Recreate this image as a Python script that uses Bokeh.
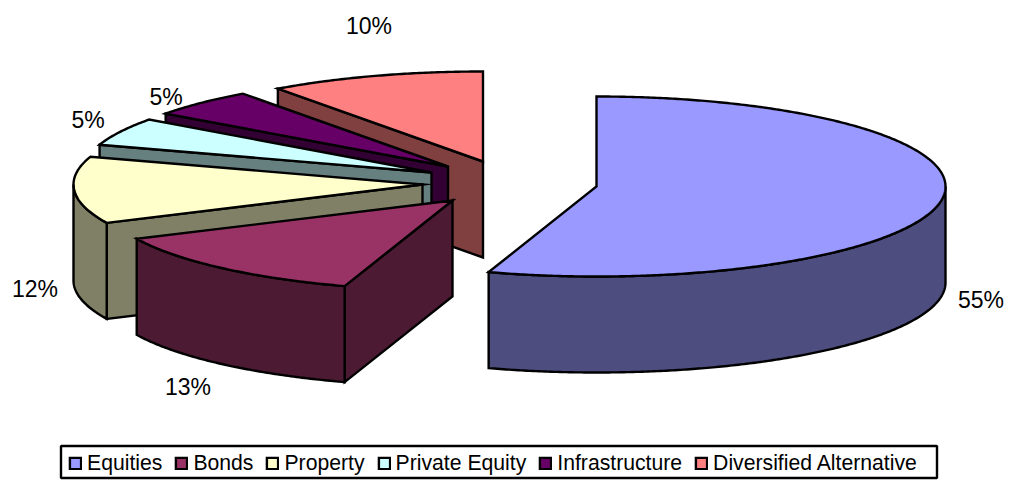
import numpy as np
from bokeh.plotting import figure
from bokeh.models import Range1d, Legend, LegendItem
from bokeh.core.properties import value
from bokeh.embed import file_html
from bokeh.resources import INLINE

categories = ["Equities", "Bonds", "Property", "Private Equity", "Infrastructure", "Diversified Alternative"]
shares = [55, 13, 12, 5, 5, 10]
top_colors = ["#9999FF", "#993366", "#FFFFCC", "#CCFFFF", "#660066", "#FF8080"]
side_colors = ["#4D4D80", "#4D1A33", "#808066", "#668080", "#330033", "#804040"]
apex_x = [596, 452, 422, 431, 447.5, 482.5]
apex_y = [186, 200, 184, 172, 166, 161]
label_x = [980.5, 187.5, 34.5, 87.5, 165.5, 368.5]
label_y = [299.5, 386, 288, 119, 96.5, 25]

RX, RY, DEPTH = 349, 90, 96

p = figure(width=1009, height=480, output_backend="svg", toolbar_location=None,
           x_range=Range1d(0, 1009), y_range=Range1d(480, 0),
           min_border=0, outline_line_color=None)
p.axis.visible = False
p.grid.visible = False

stroke = dict(line_color="black", line_width=2.4, line_join="miter")


def arc(cx, cy, a, b):
    t = np.radians(np.linspace(a, b, max(int(abs(b - a) * 2), 2) + 1))
    return cx + RX * np.sin(t), cy - RY * np.cos(t)


edges = np.concatenate([[0], np.cumsum(shares) * 3.6])
tops = {}
# back-to-front painting order
for i in [5, 4, 3, 2, 1, 0]:
    cx, cy = apex_x[i], apex_y[i]
    a, b = edges[i], edges[i + 1]
    # radial wall on the starting edge, when it faces the viewer
    if np.sin(np.radians(a)) < -1e-6:
        ex, ey = arc(cx, cy, a, a)
        ex, ey = ex[0], ey[0]
        p.patch([cx, ex, ex, cx], [cy, ey, ey + DEPTH, cy + DEPTH], fill_color=side_colors[i], **stroke)
    # outer rim wall
    lo, hi = max(a, 90), min(b, 270)
    if hi > lo:
        ax, ay = arc(cx, cy, lo, hi)
        p.patch(np.concatenate([ax, ax[::-1]]), np.concatenate([ay, ay[::-1] + DEPTH]),
                fill_color=side_colors[i], **stroke)
    # top face
    ax, ay = arc(cx, cy, a, b)
    tops[i] = p.patch(np.concatenate([[cx], ax]), np.concatenate([[cy], ay]),
                      fill_color=top_colors[i], **stroke)

p.text(label_x, label_y, text=[f"{v}%" for v in shares], text_align="center", text_baseline="middle",
       text_font=value("Liberation Sans"), text_font_size="23px", text_color="black")

# legend frame
p.quad(left=[60.5], right=[936.5], top=[445.5], bottom=[477.5], fill_color="white",
       line_color="black", line_width=2.4)

legend = Legend(items=[LegendItem(label=c, renderers=[tops[i]]) for i, c in enumerate(categories)],
                orientation="horizontal", location=(68, 5),
                glyph_width=14, glyph_height=14, label_standoff=5, spacing=12,
                padding=0, margin=0,
                label_text_font="Liberation Sans", label_text_font_size="21.2px", label_text_color="black",
                label_height=20,
                border_line_color=None, background_fill_alpha=0)
p.add_layout(legend, "center")

open("out.html", "w").write(file_html(p, INLINE))
